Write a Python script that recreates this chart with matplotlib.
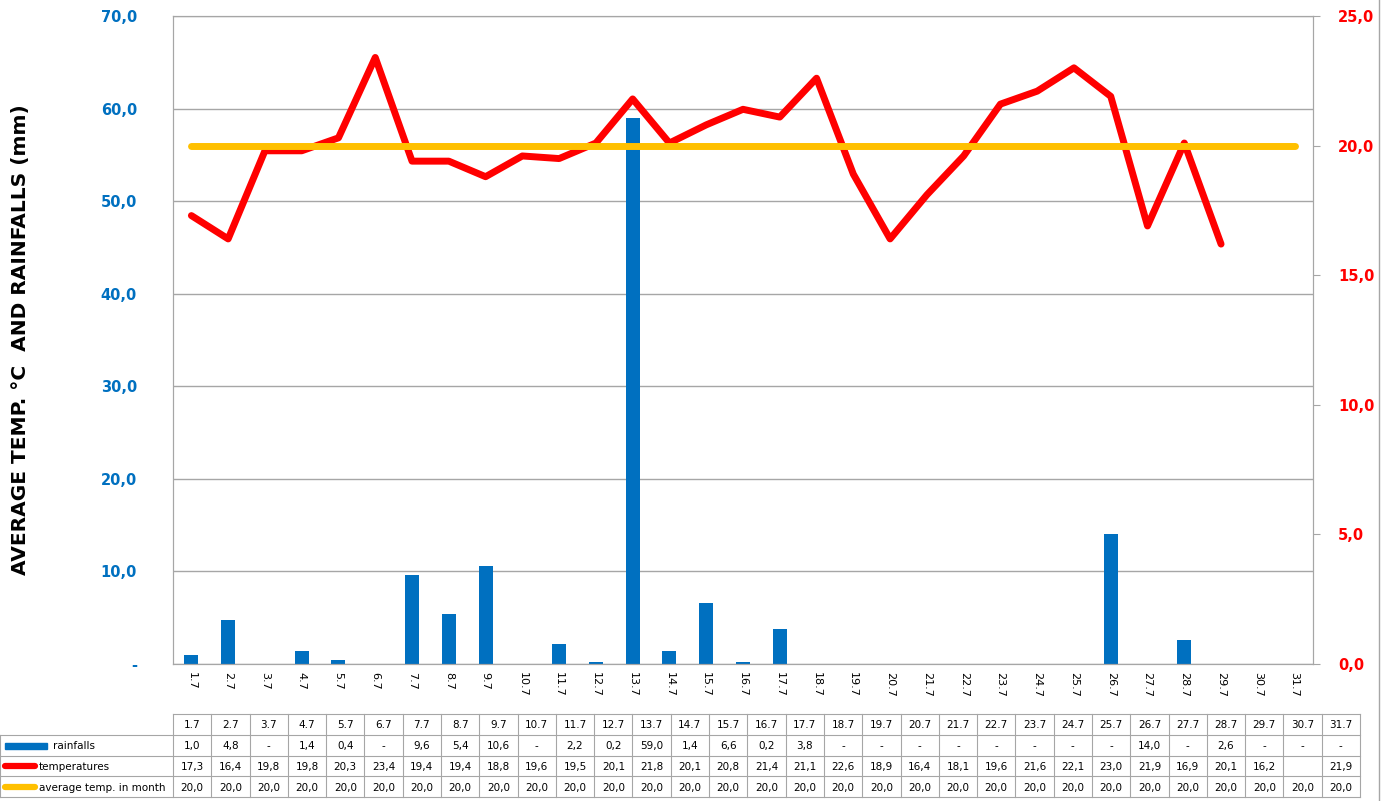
import numpy as np
import matplotlib.pyplot as plt
from matplotlib.lines import Line2D
from matplotlib.patches import Rectangle

days = ["1.7", "2.7", "3.7", "4.7", "5.7", "6.7", "7.7", "8.7", "9.7", "10.7",
        "11.7", "12.7", "13.7", "14.7", "15.7", "16.7", "17.7", "18.7", "19.7", "20.7",
        "21.7", "22.7", "23.7", "24.7", "25.7", "26.7", "27.7", "28.7", "29.7", "30.7", "31.7"]
rainfalls = [1.0, 4.8, 0, 1.4, 0.4, 0, 9.6, 5.4, 10.6, 0,
             2.2, 0.2, 59.0, 1.4, 6.6, 0.2, 3.8, 0, 0, 0,
             0, 0, 0, 0, 0, 14.0, 0, 2.6, 0, 0, 0]
temperatures = [17.3, 16.4, 19.8, 19.8, 20.3, 23.4, 19.4, 19.4, 18.8, 19.6,
                19.5, 20.1, 21.8, 20.1, 20.8, 21.4, 21.1, 22.6, 18.9, 16.4,
                18.1, 19.6, 21.6, 22.1, 23.0, 21.9, 16.9, 20.1, 16.2, np.nan, 21.9]
avg_temp = [20.0] * 31

BLUE = "#0070C0"
RED = "#FF0000"
YELLOW = "#FFC000"
GREY = "#A6A6A6"

W, H = 1386, 801
fig = plt.figure(figsize=(W / 100, H / 100), dpi=100)

# main chart
ax = fig.add_axes([173 / W, 1 - 664 / H, (1313 - 173) / W, (664 - 16) / H])
x = np.arange(len(days))
ax.bar(x, rainfalls, width=0.38, color=BLUE, zorder=2)
ax.set_xlim(-0.5, len(days) - 0.5)
ax.set_ylim(0, 70)
ax.set_yticks(np.arange(0, 71, 10))
ax.set_yticklabels(["-" if v == 0 else f"{v:.1f}".replace(".", ",") for v in np.arange(0, 71, 10)])
ax.tick_params(axis="y", length=0, pad=26, labelcolor=BLUE, labelsize=10.5)
for t in ax.get_yticklabels():
    t.set_fontweight("bold")
ax.set_xticks(x)
ax.set_xticklabels(days, rotation=270, fontsize=8)
ax.tick_params(axis="x", length=0, pad=6)
ax.grid(axis="y", color=GREY, linewidth=1)
ax.set_axisbelow(True)
for s in ax.spines.values():
    s.set_color(GREY)

fig.text(21 / W, 1 - 340 / H, "AVERAGE TEMP. °C  AND RAINFALLS (mm)", rotation=90,
         ha="center", va="center", fontsize=14.5, fontweight="bold")

ax2 = ax.twinx()
ax2.plot(x, temperatures, color=RED, lw=5, solid_joinstyle="round", solid_capstyle="round")
ax2.plot(x, avg_temp, color=YELLOW, lw=5, solid_capstyle="round")
ax2.set_ylim(0, 25)
ax2.set_yticks(np.arange(0, 26, 5))
ax2.set_yticklabels([f"{v:.1f}".replace(".", ",") for v in np.arange(0, 26, 5)])
ax2.tick_params(axis="y", length=5, color=GREY, pad=13, labelcolor=RED, labelsize=10.5)
for t in ax2.get_yticklabels():
    t.set_fontweight("bold")
for s in ax2.spines.values():
    s.set_color(GREY)

# data table below the chart
col_w = (1360 - 173) / len(days)
label_w = 173 / col_w
tab = fig.add_axes([0, 1 - 797 / H, 1360 / W, (797 - 714) / H])
tab.set_xlim(-label_w, len(days))
tab.set_ylim(4, 0)
tab.axis("off")


def fmt(v, dash=False):
    if dash and v == 0:
        return "-"
    if np.isnan(v):
        return ""
    return f"{v:.1f}".replace(".", ",")


rows = [days,
        [fmt(v, True) for v in rainfalls],
        [fmt(v) for v in temperatures],
        [fmt(v) for v in avg_temp]]
for r, row in enumerate(rows):
    for c, txt in enumerate(row):
        tab.text(c + 0.5, r + 0.55, txt, ha="center", va="center", fontsize=7.5)

lk = dict(color=GREY, lw=0.8, clip_on=False)
tab.plot([0, len(days)], [0, 0], **lk)
for r in range(1, 5):
    tab.plot([-label_w, len(days)], [r, r], **lk)
for c in range(len(days) + 1):
    tab.plot([c, c], [0, 4], **lk)
tab.plot([-label_w, -label_w], [1, 4], **lk)

labels = ["rainfalls", "temperatures", "average temp. in month"]
tab.add_patch(Rectangle((-label_w + 0.12, 1.38), 1.1, 0.3, color=BLUE, clip_on=False))
tab.plot([-label_w + 0.14, -label_w + 0.92], [2.5, 2.5], color=RED, lw=4.5, solid_capstyle="round", clip_on=False)
tab.plot([-label_w + 0.14, -label_w + 0.92], [3.5, 3.5], color=YELLOW, lw=4.5, solid_capstyle="round", clip_on=False)
tab.text(-label_w + 1.38, 1.55, labels[0], ha="left", va="center", fontsize=7.5)
tab.text(-label_w + 1.02, 2.55, labels[1], ha="left", va="center", fontsize=7.5)
tab.text(-label_w + 1.02, 3.55, labels[2], ha="left", va="center", fontsize=7.5)

# chart-area border on the right
fig.add_artist(Line2D([1379 / W, 1379 / W], [0, 1], color=GREY, lw=1))

fig.savefig("out.png", dpi=100)
